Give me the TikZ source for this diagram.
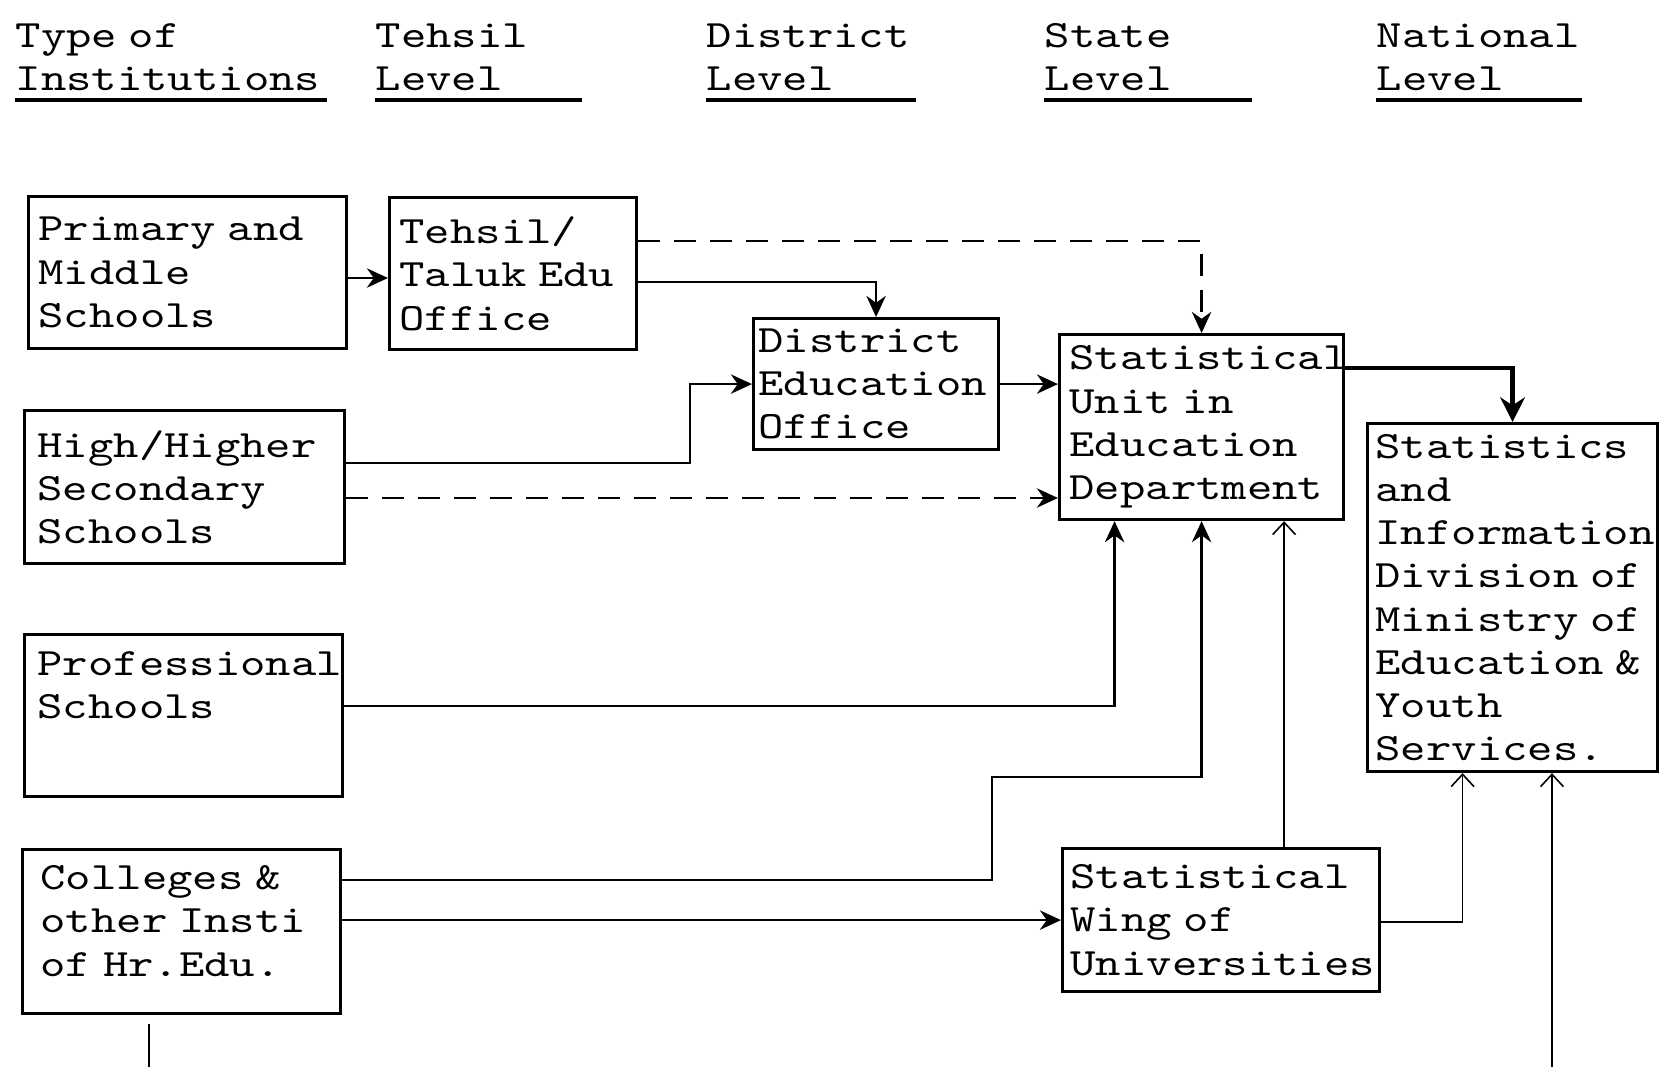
\documentclass[tikz,border=0pt]{standalone}
\usepackage{fontspec}
\setmonofont{lmmono10-regular.otf}[FakeStretch=1.25, HyphenChar=None]
\usetikzlibrary{arrows.meta,positioning,calc}
\newcommand{\typewriter}{\ttfamily\fontsize{11}{12.3}\selectfont}
\tikzset{
  inst box/.style={
    draw,
    line width=0.9pt,
    anchor=north west,
    align=left,
    inner xsep=0.1cm,
    inner ysep=0.05cm,
    execute at begin node=\typewriter
  },
  level head/.style={
    anchor=base west,
    align=left,
    inner xsep=0pt,
    inner ysep=0.09cm,
    execute at begin node=\typewriter
  },
  head rule/.style={line width=1.1pt},
  flow/.style={
    ->,
    >={Stealth[length=6pt,width=5.5pt]},
    line width=0.7pt
  },
  thin flow/.style={
    -{Straight Barb[length=3.5pt,width=6.5pt]},
    line width=0.45pt
  },
  dash flow/.style={
    flow,
    dash pattern=on 0.22cm off 0.14cm
  }
}

\begin{document}
\begin{tikzpicture}
  \useasboundingbox (0,0) rectangle (16.73,10.67);

  % Level headings
  \node[level head, text width=3.11cm] (hdType) at (0.15,10.20) {Type of\\Institutions};
  \node[level head, text width=2.06cm] (hdTehsil) at (3.75,10.20) {Tehsil\\Level};
  \node[level head, text width=2.09cm] (hdDistrict) at (7.06,10.20) {District\\Level};
  \node[level head, text width=2.07cm] (hdState) at (10.44,10.20) {State\\Level};
  \node[level head, text width=2.05cm] (hdNational) at (13.76,10.20) {National\\Level};
  \foreach \h in {hdType,hdTehsil,hdDistrict,hdState,hdNational}
    \draw[head rule] (\h.south west) -- (\h.south east);

  % Institutions
  \node[inst box, text width=2.98cm, minimum height=1.52cm] (primary) at (0.27,8.72) {Primary and\\Middle\\Schools};
  \node[inst box, inner xsep=0.13cm, text width=2.94cm, minimum height=1.53cm] (high) at (0.23,6.58) {High/Higher\\Secondary\\Schools};
  \node[inst box, inner xsep=0.13cm, inner ysep=0.12cm, text width=2.92cm, text depth=1.05cm, minimum height=1.62cm] (prof) at (0.23,4.34) {Professional\\Schools};
  \node[inst box, inner xsep=0.18cm, inner ysep=0.14cm, text width=2.82cm, text depth=1.08cm, minimum height=1.64cm] (coll) at (0.21,2.19) {Colleges \&\\other Insti\\of Hr.Edu.};

  % Offices
  \node[inst box, text width=2.27cm, minimum height=1.52cm] (tehsil) at (3.88,8.71) {Tehsil/\\Taluk Edu\\Office};
  \node[inst box, inner xsep=0.05cm, text width=2.35cm, minimum height=1.31cm] (district) at (7.52,7.50) {District\\Education\\Office};
  \node[inst box, text width=2.64cm, minimum height=1.85cm] (unit) at (10.58,7.34) {Statistical\\Unit in\\Education\\Department};
  \node[inst box, inner xsep=0.08cm, text width=3.01cm, minimum height=1.43cm] (wing) at (10.61,2.20) {Statistical\\Wing of\\Universities};
  \node[inst box, inner xsep=0.08cm, inner ysep=0pt, text width=2.74cm, minimum height=3.48cm] (sid) at (13.66,6.45) {Statistics\\and\\Information\\Division of\\Ministry of\\Education \&\\Youth\\Services.};

  % Reporting lines
  \coordinate (wingUp) at ([xshift=0.63cm]wing.north);
  \coordinate (collDrop) at (1.49,0.43);
  \coordinate (collOut) at (1.49,0);
  \coordinate (sidFeed) at (15.52,0);

  \draw[flow] (primary.east |- 0,7.89) -- (tehsil.west |- 0,7.89);
  \draw[flow] (tehsil.east |- 0,7.85) -| (district.north);
  \draw[dash flow] (tehsil.east |- 0,8.26) -| (unit.north);
  \draw[flow] (high.east |- 0,6.04) -| ([xshift=-0.62cm]district.west) -- (district.west);
  \draw[dash flow] (high.east |- 0,5.69) -- (unit.west |- 0,5.69);
  \draw[flow] (district.east) -- (district.east -| unit.west);
  \draw[flow, line width=1.4pt, >={Stealth[length=7pt,width=7pt]}] (unit.east |- 0,6.99) -| (sid.north);
  \draw[flow] (prof.east |- 0,3.61) -| ([xshift=-0.87cm]unit.south);
  \draw[flow] (coll.east |- 0,1.87) -| (9.92,2.90) -| (unit.south);
  \draw[flow] (coll.east |- wing.west) -- (wing.west);
  \draw[thin flow] (wingUp) -- (wingUp |- unit.south);
  \draw[thin flow] (wing.east |- 0,1.45) -| ([xshift=-0.50cm]sid.south);
  \draw[thin flow] (sidFeed) -- (sidFeed |- sid.south);
  \draw[thin flow, -] (collDrop) -- (collOut);
\end{tikzpicture}
\end{document}
